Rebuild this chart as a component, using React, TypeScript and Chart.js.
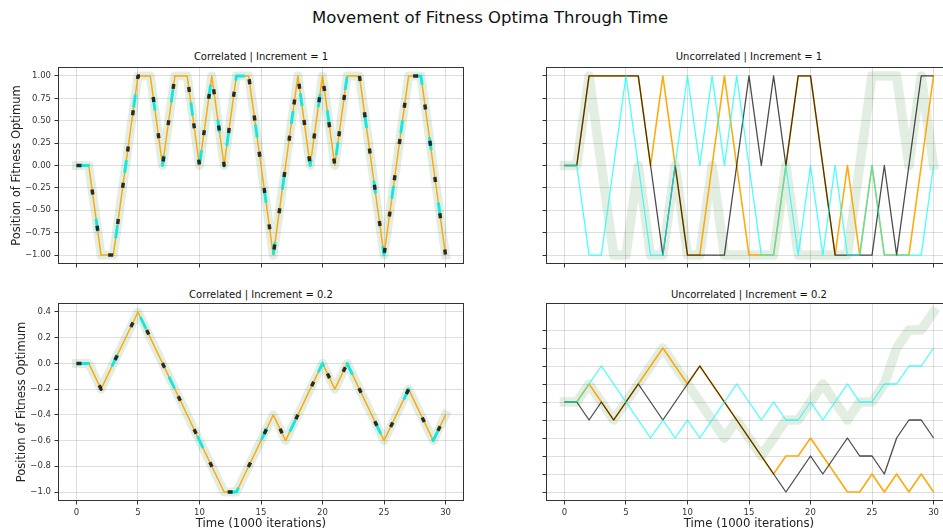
import React, { useEffect, useRef } from 'react';
import { Chart, registerables } from 'chart.js';

Chart.register(...registerables);

// ---------------- data ----------------
const TIME = [0, 1, 2, 3, 4, 5, 6, 7, 8, 9, 10, 11, 12, 13, 14, 15, 16, 17, 18, 19, 20, 21, 22, 23, 24, 25, 26, 27, 28, 29, 30];
const X_TICKS = [0, 5, 10, 15, 20, 25, 30];
const Y_TICKS_INC1 = [-1, -0.75, -0.5, -0.25, 0, 0.25, 0.5, 0.75, 1];
const Y_TICKS_CORR02 = [-1.0, -0.8, -0.6, -0.4, -0.2, 0.0, 0.2, 0.4];
const Y_TICKS_UNCORR02 = [-1.0, -0.8, -0.6, -0.4, -0.2, 0.0, 0.2, 0.4, 0.6, 0.8];

// Correlated: all four runs coincide
const CORR_INC1 = [0, 0, -1, -1, 0, 1, 1, 0, 1, 1, 0, 1, 0, 1, 1, 0, -1, 0, 1, 0, 1, 0, 1, 1, 0, -1, 0, 1, 1, 0, -1];
const CORR_INC02 = [0, 0, -0.2, 0, 0.2, 0.4, 0.2, 0, -0.2, -0.4, -0.6, -0.8, -1.0, -1.0, -0.8, -0.6, -0.4, -0.6, -0.4, -0.2, 0, -0.2, 0, -0.2, -0.4, -0.6, -0.4, -0.2, -0.4, -0.6, -0.4];

// Uncorrelated | Increment = 1
const UNC1_GREEN = [0, 0, 1, 0, -1, -1, 0, -1, -1, 0, -1, -1, 0, -1, -1, -1, -1, -1, 0, -1, -1, -1, -1, -1, 0, 1, 1, 1, 0, 1, 0];
const UNC1_ORANGE = [0, 0, 1, 1, 1, 1, 1, 0, 1, 0, -1, -1, 0, 1, 0, -1, -1, -1, 0, 1, 1, 0, -1, 0, -1, 0, -1, -1, -1, 0, 1];
const UNC1_BLACK = [0, 0, 1, 1, 1, 1, 1, 0, -1, 0, -1, -1, -1, -1, 0, 1, 0, 1, 0, 1, 1, 0, -1, -1, -1, -1, 0, -1, 0, 1, 1];
const UNC1_CYAN = [0, 0, -1, -1, 0, 1, 0, -1, -1, 0, 1, 0, 1, 0, 1, 0, -1, -1, 0, -1, 0, -1, 0, -1, -1, 0, -1, -1, -1, -1, 0];

// Uncorrelated | Increment = 0.2
const UNC02_GREEN = [0, 0, 0.2, 0, -0.2, 0, 0.2, 0.4, 0.6, 0.4, 0.2, 0, -0.2, -0.4, -0.2, -0.4, -0.6, -0.4, -0.2, -0.2, 0, 0.2, 0, -0.2, 0, 0, 0.2, 0.6, 0.8, 0.8, 1.0];
const UNC02_ORANGE = [0, 0, 0.2, 0, -0.2, 0, 0.2, 0.4, 0.6, 0.4, 0.2, 0.4, 0.2, 0, -0.2, -0.4, -0.6, -0.8, -0.6, -0.6, -0.4, -0.6, -0.8, -1.0, -1.0, -0.8, -1.0, -0.8, -1.0, -0.8, -1.0];
const UNC02_BLACK = [0, 0, -0.2, 0, -0.2, 0, 0.2, 0, -0.2, 0, 0.2, 0.4, 0.2, 0, -0.2, -0.4, -0.6, -0.8, -1.0, -0.8, -0.6, -0.8, -0.6, -0.4, -0.6, -0.6, -0.8, -0.4, -0.2, -0.2, -0.4];
const UNC02_CYAN = [0, 0, 0.2, 0.4, 0.2, 0, -0.2, -0.4, -0.2, -0.4, -0.2, -0.4, -0.2, 0, 0.2, 0, -0.2, 0, -0.2, -0.2, 0, -0.2, 0, 0.2, 0, 0, 0.2, 0.2, 0.4, 0.4, 0.6];

// ---------------- styles ----------------
const FONT = '"DejaVu Sans", "Liberation Sans", sans-serif';
const GLOW = 'rgba(0,100,0,0.11)';
const GRID = 'rgba(0,0,0,0.13)';
const TICK_COLOR = '#333';

type Series = {
  data: number[];
  color: string;
  width: number;
  dash?: number[];
  order: number;
  cap?: 'butt' | 'round' | 'square';
};

const correlatedSeries = (vals: number[]): Series[] => [
  { data: vals, color: GLOW, width: 9, order: 3, cap: 'square' },
  { data: vals, color: 'rgba(255,165,0,0.95)', width: 1.5, order: 2 },
  { data: vals, color: 'rgba(0,235,235,0.9)', width: 3, dash: [13, 53], order: 1 },
  { data: vals, color: 'rgba(20,20,20,0.88)', width: 3.5, dash: [5, 31.6], order: 0 },
];

const uncorrelatedSeries = (g: number[], o: number[], b: number[], c: number[]): Series[] => [
  { data: g, color: GLOW, width: 9.5, order: 3, cap: 'square' },
  { data: o, color: 'rgba(255,165,0,0.95)', width: 1.6, order: 2 },
  { data: b, color: 'rgba(0,0,0,0.7)', width: 1.3, order: 1 },
  { data: c, color: 'rgba(0,255,255,0.7)', width: 1.3, order: 0 },
];

const fmt = (dec: number) => (v: number) => {
  const s = Math.abs(v) < 1e-9 ? (0).toFixed(dec) : Number(v).toFixed(dec);
  return s.replace('-', '\u2212');
};

const framePlugin = {
  id: 'frame',
  afterDraw(chart: any) {
    const { ctx, chartArea: a } = chart;
    ctx.save();
    ctx.strokeStyle = '#333';
    ctx.lineWidth = 1;
    const l = Math.round(a.left) + 0.5;
    const t = Math.round(a.top) + 0.5;
    const r = Math.round(a.right) - 0.5;
    const btm = Math.round(a.bottom) - 0.5;
    ctx.strokeRect(l, t, r - l, btm - t);
    ctx.restore();
  },
};

type PanelProps = {
  left: number;
  top: number;
  width: number;
  height: number;
  yAxisW: number;
  padTop: number;
  padRight: number;
  xAxisH: number;
  yMin: number;
  yMax: number;
  yTicks: number[];
  yDec: number;
  showYLabels: boolean;
  showXLabels: boolean;
  yTitle?: string;
  yTitlePad?: number;
  xTitle?: string;
  series: Series[];
};

function Panel(p: PanelProps) {
  const ref = useRef<HTMLCanvasElement | null>(null);
  useEffect(() => {
    if (!ref.current) return;
    const chart = new Chart(ref.current, {
      type: 'line',
      data: {
        datasets: p.series.map((s) => ({
          data: s.data.map((v, i) => ({ x: TIME[i], y: v })),
          borderColor: s.color,
          borderWidth: s.width,
          borderDash: s.dash || [],
          borderCapStyle: s.cap || 'butt',
          borderJoinStyle: 'round',
          order: s.order,
          pointRadius: 0,
          tension: 0,
          fill: false,
        })),
      } as any,
      options: {
        responsive: false,
        animation: false,
        devicePixelRatio: 1,
        events: [],
        layout: { padding: { left: 0, top: p.padTop, right: p.padRight, bottom: 0 } },
        plugins: { legend: { display: false }, tooltip: { enabled: false }, title: { display: false } },
        scales: {
          x: {
            type: 'linear',
            min: -1.5,
            max: 31.5,
            afterBuildTicks: (s: any) => {
              s.ticks = X_TICKS.map((v) => ({ value: v }));
            },
            afterFit: (s: any) => {
              s.height = p.xAxisH;
            },
            grid: { color: GRID, lineWidth: 1, tickColor: TICK_COLOR, tickLength: 3.5, drawTicks: true },
            border: { display: false },
            ticks: {
              display: p.showXLabels,
              autoSkip: false,
              maxRotation: 0,
              padding: 3,
              color: '#333',
              font: { family: FONT, size: 8.5 },
              callback: (v: any) => String(v),
            },
            title: {
              display: !!p.xTitle,
              text: p.xTitle || '',
              color: '#222',
              font: { family: FONT, size: 11.7 },
              padding: { top: 0, bottom: 0 },
            },
          },
          y: {
            type: 'linear',
            min: p.yMin,
            max: p.yMax,
            afterBuildTicks: (s: any) => {
              s.ticks = p.yTicks.map((v) => ({ value: v }));
            },
            afterFit: (s: any) => {
              s.width = p.yAxisW;
            },
            grid: { color: GRID, lineWidth: 1, tickColor: TICK_COLOR, tickLength: 3.5, drawTicks: true },
            border: { display: false },
            ticks: {
              display: p.showYLabels,
              autoSkip: false,
              padding: 3.5,
              color: '#333',
              font: { family: FONT, size: 8.5 },
              callback: (v: any) => fmt(p.yDec)(Number(v)),
            },
            title: {
              display: !!p.yTitle,
              text: p.yTitle || '',
              color: '#222',
              font: { family: FONT, size: 11.5 },
              padding: { top: p.yTitlePad || 0, bottom: 0 },
            },
          },
        },
      } as any,
      plugins: [framePlugin],
    });
    return () => chart.destroy();
  }, []);
  return (
    <canvas
      ref={ref}
      width={p.width}
      height={p.height}
      style={{ position: 'absolute', left: p.left, top: p.top, width: p.width, height: p.height, display: 'block' }}
    />
  );
}

const TEXT_BASE: React.CSSProperties = {
  position: 'absolute',
  transform: 'translate(-50%, -50%)',
  whiteSpace: 'nowrap',
  lineHeight: 1,
  fontFamily: FONT,
  color: '#111',
};

function Label({ x, y, size, text }: { x: number; y: number; size: number; text: string }) {
  return <div style={{ ...TEXT_BASE, left: x, top: y, fontSize: size }}>{text}</div>;
}

export default function App() {
  const Y_LABEL = 'Position of Fitness Optimum';
  const X_LABEL = 'Time (1000 iterations)';
  return (
    <div
      style={{
        position: 'fixed',
        left: 0,
        top: 0,
        width: 943,
        height: 531,
        overflow: 'hidden',
        background: '#fff',
      }}
    >
      <Label x={490} y={18} size={16.5} text="Movement of Fitness Optima Through Time" />
      <Label x={261} y={57} size={10} text="Correlated | Increment = 1" />
      <Label x={749} y={57} size={10} text="Uncorrelated | Increment = 1" />
      <Label x={261} y={294.5} size={10} text="Correlated | Increment = 0.2" />
      <Label x={749} y={294.5} size={10} text="Uncorrelated | Increment = 0.2" />

      <Panel
        left={0} top={40} width={470} height={240}
        yAxisW={58} padTop={27} padRight={6} xAxisH={16}
        yMin={-1.1} yMax={1.1} yTicks={Y_TICKS_INC1} yDec={2}
        showYLabels={true} showXLabels={false}
        yTitle={Y_LABEL} yTitlePad={10}
        series={correlatedSeries(CORR_INC1)}
      />
      <Panel
        left={470} top={40} width={490} height={240}
        yAxisW={76} padTop={27} padRight={8} xAxisH={16}
        yMin={-1.1} yMax={1.1} yTicks={Y_TICKS_INC1} yDec={2}
        showYLabels={false} showXLabels={false}
        series={uncorrelatedSeries(UNC1_GREEN, UNC1_ORANGE, UNC1_BLACK, UNC1_CYAN)}
      />
      <Panel
        left={0} top={280} width={470} height={251}
        yAxisW={58} padTop={23} padRight={6} xAxisH={30}
        yMin={-1.07} yMax={0.47} yTicks={Y_TICKS_CORR02} yDec={1}
        showYLabels={true} showXLabels={true}
        yTitle={Y_LABEL} yTitlePad={15} xTitle={X_LABEL}
        series={correlatedSeries(CORR_INC02)}
      />
      <Panel
        left={470} top={280} width={490} height={251}
        yAxisW={76} padTop={23} padRight={8} xAxisH={30}
        yMin={-1.1} yMax={1.1} yTicks={Y_TICKS_UNCORR02} yDec={1}
        showYLabels={false} showXLabels={true}
        xTitle={X_LABEL}
        series={uncorrelatedSeries(UNC02_GREEN, UNC02_ORANGE, UNC02_BLACK, UNC02_CYAN)}
      />
    </div>
  );
}
